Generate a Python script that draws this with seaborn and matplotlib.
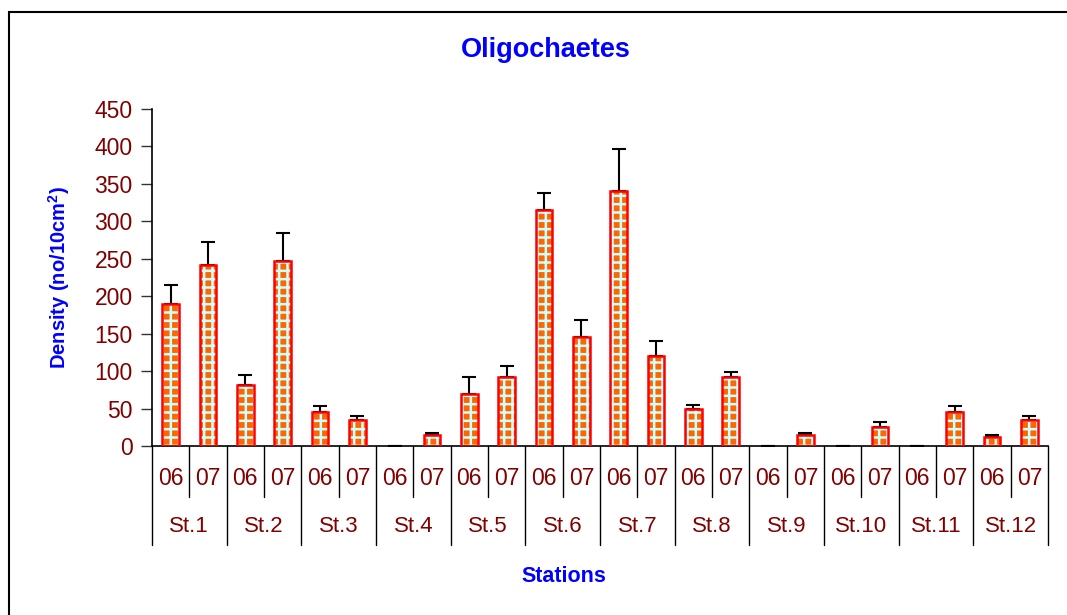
import numpy as np
import pandas as pd
import matplotlib
matplotlib.use("Agg")
import matplotlib.pyplot as plt
import seaborn as sns
from matplotlib.patches import Rectangle

stations = ["St.1", "St.2", "St.3", "St.4", "St.5", "St.6",
            "St.7", "St.8", "St.9", "St.10", "St.11", "St.12"]
years = ["06", "07"]
density_06 = [190, 82, 45, 0, 70, 315, 340, 50, 0, 0, 0, 12]
density_07 = [242, 247, 35, 15, 92, 145, 120, 92, 15, 25, 45, 35]
err_06 = [25, 13, 8, 0, 22, 23, 57, 5, 0, 0, 0, 3]
err_07 = [30, 37, 5, 3, 15, 23, 20, 7, 3, 7, 8, 5]
yticks = [0, 50, 100, 150, 200, 250, 300, 350, 400, 450]

rows = []
for i, st in enumerate(stations):
    rows.append({"key": f"{st}-06", "station": st, "year": "06",
                 "density": density_06[i], "err": err_06[i]})
    rows.append({"key": f"{st}-07", "station": st, "year": "07",
                 "density": density_07[i], "err": err_07[i]})
df = pd.DataFrame(rows)
order = list(df["key"])

sns.set_style("white")
plt.rcParams["font.family"] = ["Liberation Sans", "DejaVu Sans"]

W, H = 1067, 615
fig = plt.figure(figsize=(W / 100, H / 100), dpi=100)
ax = fig.add_axes([152 / W, 1 - 446 / H, (1048 - 152) / W, (446 - 109) / H])

# frame around figure
fig.patches.append(Rectangle((9 / W, -0.05), 1.2, 1 - 12 / H + 0.05,
                             transform=fig.transFigure, fill=False,
                             edgecolor="black", linewidth=1.5, zorder=0))

plt.rcParams["hatch.linewidth"] = 1.8
bw = 0.44
sns.barplot(data=df, x="key", y="density", order=order, ax=ax,
            color="#FF6600", saturation=1, width=bw, errorbar=None,
            linewidth=0, zorder=2)
n_fill = len(ax.patches)
for p in ax.patches:
    p.set_hatch("++")
    p.set_edgecolor("#CCFFFF")
    p.set_linewidth(0)
sns.barplot(data=df, x="key", y="density", order=order, ax=ax,
            fill=False, width=bw, errorbar=None, edgecolor="#FF0000",
            linewidth=1.8, zorder=3)
for p in ax.patches[n_fill:]:
    if p.get_height() == 0:
        p.set_linewidth(0)

xs = np.arange(len(order))
ax.errorbar(xs, df["density"], yerr=[np.zeros(len(xs)), df["err"]],
            fmt="none", ecolor="black", elinewidth=1.5, capsize=5,
            capthick=1.5, zorder=1)

ax.set_ylim(0, 450)
ax.set_xlim(-0.5, len(order) - 0.5)
ax.set_yticks(yticks)
ax.set_yticklabels([str(v) for v in yticks], color="#800000", fontsize=16.5)
ax.tick_params(axis="y", direction="out", length=8, width=1, color="#333333",
               left=True, pad=6)
ax.set_xticks([])
ax.set_xlabel("")
ax.set_ylabel("Density (no/10cm$^\\mathregular{2}$)", color="#0000FF",
              fontsize=14.5, fontweight="bold", labelpad=16)
for s in ["top", "right"]:
    ax.spines[s].set_visible(False)
ax.spines["left"].set_color("black")
ax.spines["bottom"].set_color("black")
ax.spines["left"].set_linewidth(1.2)
ax.spines["bottom"].set_linewidth(1.2)

trans = ax.get_xaxis_transform()
for i, st in enumerate(stations):
    x0 = 2 * i
    ax.text(x0, -0.095, "06", transform=trans, ha="center", va="center",
            color="#800000", fontsize=16.5)
    ax.text(x0 + 1, -0.095, "07", transform=trans, ha="center", va="center",
            color="#800000", fontsize=16.5)
    ax.text(x0 + 0.5, -0.24, st, transform=trans, ha="center", va="center",
            color="#800000", fontsize=16)
    ax.plot([x0 + 0.5, x0 + 0.5], [0, -0.151], transform=trans,
            color="black", linewidth=1, clip_on=False)
for j in range(len(stations) + 1):
    xb = 2 * j - 0.5
    ax.plot([xb, xb], [0, -0.294], transform=trans, color="black",
            linewidth=1, clip_on=False)

fig.text(546 / W, 1 - 50 / H, "Oligochaetes", color="#0000FF",
         fontsize=19.5, fontweight="bold", ha="center", va="center")
fig.text(564 / W, 1 - 576 / H, "Stations", color="#0000FF",
         fontsize=15.5, fontweight="bold", ha="center", va="center")

fig.savefig("out.png", dpi=100)
